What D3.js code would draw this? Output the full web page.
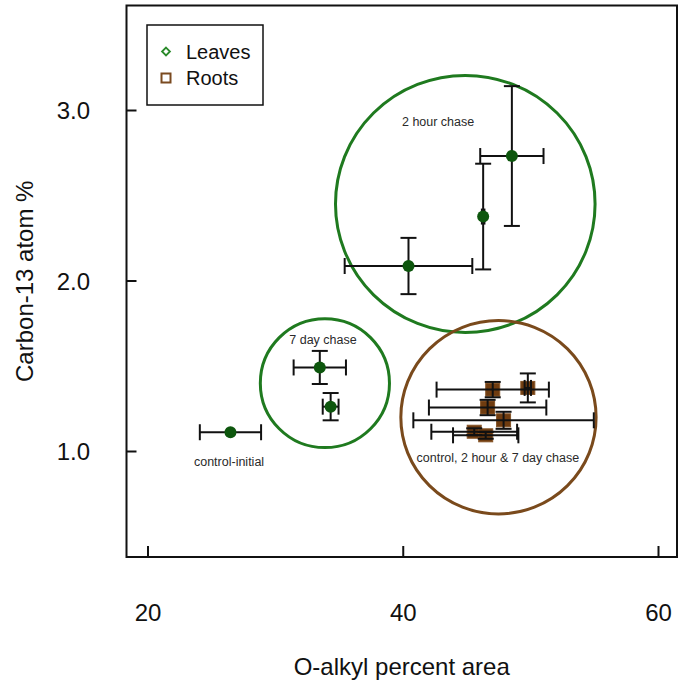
<!DOCTYPE html>
<html>
<head>
<meta charset="utf-8">
<script src="https://cdn.jsdelivr.net/npm/d3@7/dist/d3.min.js"></script>
<style>
  body { margin: 0; background: #fff; }
  text { font-family: Arial, "Liberation Sans", sans-serif; }
</style>
</head>
<body>
<div id="chart"></div>
<script>
// Leaves: O-alkyl % (x), carbon-13 atom % (y), with error half-widths
const leaves_x    = [26.5, 33.5, 34.35, 40.45, 46.3, 48.55];
const leaves_y    = [1.11, 1.49, 1.26, 2.085, 2.375, 2.73];
const leaves_xerr = [2.4, 2.05, 0.62, 5.0, 0.1, 2.48];
const leaves_yerr = [0, 0.097, 0.08, 0.165, 0.31, 0.41];

// Roots
const roots_x    = [47.05, 49.8, 46.65, 47.9, 45.6, 46.5];
const roots_y    = [1.36, 1.37, 1.255, 1.18, 1.113, 1.092];
const roots_xerr = [4.4, 0.25, 4.6, 7.07, 3.36, 2.56];
const roots_yerr = [0.045, 0.085, 0.045, 0.05, 0.02, 0.02];

// groups circled on the chart (centre and radii in data units)
const group_names = ['2 hour chase', '7 day chase', 'roots'];
const group_cx = [44.9, 33.9, 47.5];
const group_cy = [2.449, 1.398, 1.198];
const group_rx = [10.17, 5.06, 7.65];
const group_ry = [0.754, 0.378, 0.567];

const notes   = ['2 hour chase', '7 day chase', 'control-initial', 'control, 2 hour & 7 day chase'];
const notes_x = [42.77, 33.75, 26.39, 47.45];
const notes_y = [2.931, 1.651, 0.937, 0.962];

const x_ticks = [20, 40, 60];
const y_ticks = [1.0, 2.0, 3.0];

const leaf_color = '#0d560d';
const root_color = '#6f3c10';
const group_colors = ['#1f7a1f', '#1f7a1f', '#7a4a1c'];

const width = 685, height = 692;
const frame = {left: 126.5, top: 5.5, right: 677, bottom: 557};

const x = d3.scaleLinear().domain([20, 60]).range([147.5, 658]);
const y = d3.scaleLinear().domain([1, 3]).range([451, 110]);

const svg = d3.select('#chart').append('svg')
  .attr('width', width)
  .attr('height', height);

// circled groups
svg.selectAll('.group')
  .data(group_names)
  .enter()
  .append('ellipse')
    .attr('class', 'group')
    .attr('cx', (d, i) => x(group_cx[i]))
    .attr('cy', (d, i) => y(group_cy[i]))
    .attr('rx', (d, i) => x(group_cx[i] + group_rx[i]) - x(group_cx[i]))
    .attr('ry', (d, i) => y(group_cy[i] - group_ry[i]) - y(group_cy[i]))
    .attr('fill', 'none')
    .attr('stroke', (d, i) => group_colors[i])
    .attr('stroke-width', 3);

function error_bars(xs, ys, xe, ye) {
  const cap = 8;
  const g = svg.append('g')
    .attr('stroke', '#111')
    .attr('stroke-width', 2)
    .attr('fill', 'none');
  xs.forEach((xv, i) => {
    const cx = x(xv), cy = y(ys[i]);
    if (xe[i] > 0) {
      const x1 = x(xv - xe[i]), x2 = x(xv + xe[i]);
      g.append('line').attr('x1', x1).attr('x2', x2).attr('y1', cy).attr('y2', cy);
      g.append('line').attr('x1', x1).attr('x2', x1).attr('y1', cy - cap).attr('y2', cy + cap);
      g.append('line').attr('x1', x2).attr('x2', x2).attr('y1', cy - cap).attr('y2', cy + cap);
    }
    if (ye[i] > 0) {
      const y1 = y(ys[i] - ye[i]), y2 = y(ys[i] + ye[i]);
      g.append('line').attr('x1', cx).attr('x2', cx).attr('y1', y1).attr('y2', y2);
      g.append('line').attr('x1', cx - cap).attr('x2', cx + cap).attr('y1', y1).attr('y2', y1);
      g.append('line').attr('x1', cx - cap).attr('x2', cx + cap).attr('y1', y2).attr('y2', y2);
    }
  });
}

// roots first, then their error bars on top
svg.selectAll('.root_point')
  .data(roots_x)
  .enter()
  .append('rect')
    .attr('class', 'root_point')
    .attr('x', (d) => x(d) - 7)
    .attr('y', (d, i) => y(roots_y[i]) - 6.5)
    .attr('width', 14)
    .attr('height', 13)
    .attr('fill', root_color)
    .attr('stroke', '#865427')
    .attr('stroke-width', 1);
error_bars(roots_x, roots_y, roots_xerr, roots_yerr);

error_bars(leaves_x, leaves_y, leaves_xerr, leaves_yerr);
svg.selectAll('.leaf_point')
  .data(leaves_x)
  .enter()
  .append('circle')
    .attr('class', 'leaf_point')
    .attr('cx', (d) => x(d))
    .attr('cy', (d, i) => y(leaves_y[i]))
    .attr('r', 6)
    .attr('fill', leaf_color);

// notes
svg.selectAll('.note')
  .data(notes)
  .enter()
  .append('text')
    .attr('class', 'note')
    .attr('x', (d, i) => x(notes_x[i]))
    .attr('y', (d, i) => y(notes_y[i]))
    .attr('dy', '0.35em')
    .attr('text-anchor', 'middle')
    .style('font-size', '12.5px')
    .attr('fill', '#2a2a2a')
    .text((d) => d);

// axes (ticks point inwards, labels sit well away from the frame)
const x_ax = svg.append('g')
  .attr('transform', 'translate(0,' + frame.bottom + ')')
  .call(d3.axisBottom(x).tickValues(x_ticks).tickSize(-11).tickPadding(47).tickFormat(d3.format('d')));
const y_ax = svg.append('g')
  .attr('transform', 'translate(' + frame.left + ',0)')
  .call(d3.axisLeft(y).tickValues(y_ticks).tickSize(-10).tickPadding(36.5).tickFormat(d3.format('.1f')));
[x_ax, y_ax].forEach((ax) => {
  ax.select('.domain').remove();
  ax.selectAll('line').attr('stroke', '#111').attr('stroke-width', 2);
  ax.selectAll('text').style('font-size', '24px').attr('fill', '#111');
});
y_ax.selectAll('text').attr('dy', '0.36em');

svg.append('rect')
  .attr('x', frame.left)
  .attr('y', frame.top)
  .attr('width', frame.right - frame.left)
  .attr('height', frame.bottom - frame.top)
  .attr('fill', 'none')
  .attr('stroke', '#111')
  .attr('stroke-width', 2);

svg.append('text')
  .attr('x', (frame.left + frame.right) / 2)
  .attr('y', 675)
  .attr('text-anchor', 'middle')
  .style('font-size', '24px')
  .attr('fill', '#111')
  .text('O-alkyl percent area');

svg.append('text')
  .attr('transform', 'translate(33,' + (frame.top + frame.bottom) / 2 + ') rotate(-90)')
  .attr('text-anchor', 'middle')
  .style('font-size', '24px')
  .attr('fill', '#111')
  .text('Carbon-13 atom %');

// legend
const legend = svg.append('g');
legend.append('rect')
  .attr('x', 147).attr('y', 25).attr('width', 116).attr('height', 80)
  .attr('fill', '#fff').attr('stroke', '#111').attr('stroke-width', 1.5);
legend.append('path')
  .attr('d', d3.symbol(d3.symbolDiamond2, 40)())
  .attr('transform', 'translate(166,51.5)')
  .attr('fill', 'none').attr('stroke', '#2a8a2a').attr('stroke-width', 1.8);
legend.append('rect')
  .attr('x', 161.5).attr('y', 73.5).attr('width', 9).attr('height', 9)
  .attr('fill', 'none').attr('stroke', '#7a4a20').attr('stroke-width', 2);
legend.append('text').attr('x', 186).attr('y', 59).style('font-size', '20px').attr('fill', '#111').text('Leaves');
legend.append('text').attr('x', 186).attr('y', 85).style('font-size', '20px').attr('fill', '#111').text('Roots');
</script>
</body>
</html>
